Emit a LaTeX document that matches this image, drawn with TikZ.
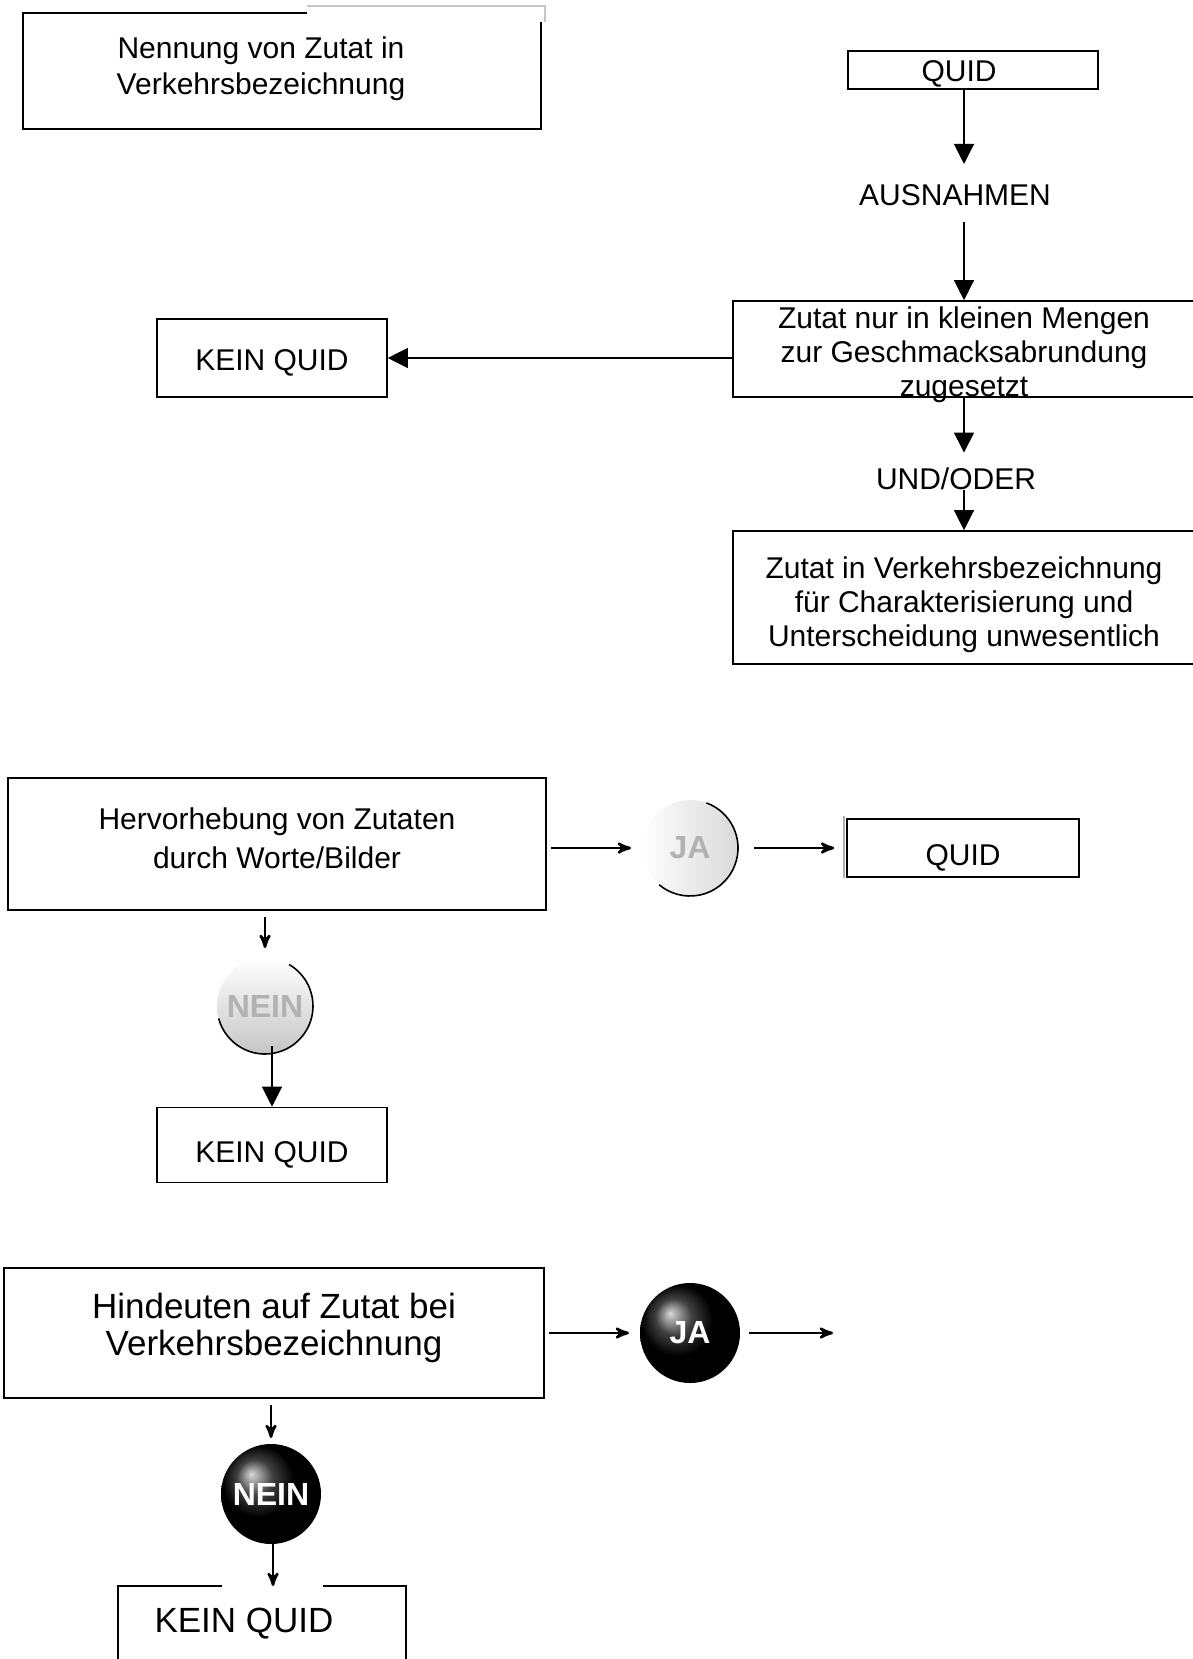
\documentclass[tikz,border=0pt]{standalone}
\usepackage{fontspec}
\setmainfont{Liberation Sans}
\usetikzlibrary{shapes,arrows,arrows.meta}

\begin{document}
\begin{tikzpicture}[
    x=0.5pt, y=-0.5pt,
    box/.style={
        rectangle,
        draw,
        line width=0.8pt,
        align=center,
        font=\fontsize{15}{17}\selectfont
    },
    plain/.style={
        align=center,
        inner sep=0pt,
        font=\fontsize{15}{17}\selectfont
    },
    paleball/.style={
        circle,
        minimum size=48pt,
        inner sep=0pt,
        outer sep=0pt,
        text=gray!60,
        font=\bfseries\fontsize{16}{16}\selectfont
    },
    darkball/.style={
        circle,
        minimum size=50pt,
        inner sep=0pt,
        outer sep=0pt,
        shading=ball,
        ball color=black,
        text=white,
        font=\bfseries\fontsize{16}{16}\selectfont
    },
    line/.style={
        draw, line width=0.6pt, -{Triangle[length=10pt,width=10pt]}
    },
    jump/.style={
        draw, line width=1.3pt, -stealth'
    }
]
    \useasboundingbox (0,0) rectangle (1193,1659);

    % Nodes: exceptions
    \node [plain, font=\fontsize{15}{18}\selectfont] (nennung) at (261,69) {Nennung von Zutat in\\Verkehrsbezeichnung};
    \node [box, minimum width=125pt, minimum height=19pt, inner sep=0pt, text height=12.5pt, text depth=0.8pt] (quidtop) at (973,70) {QUID\hspace*{14pt}};
    \node [plain] (ausnahmen) at (955,195) {AUSNAHMEN};
    \node [box, minimum width=231pt, minimum height=48pt, inner ysep=0pt, text height=47.8pt, text depth=0pt] (mengen) at (964,349) {Zutat nur in kleinen Mengen\\zur Geschmacksabrundung\\zugesetzt};
    \node [box, minimum width=115pt, minimum height=39pt, text height=13pt, text depth=0.8pt] (keinquid1) at (272,358) {KEIN QUID};
    \node [plain] (undoder) at (956,479) {UND/ODER};
    \node [box, minimum width=231pt, minimum height=66.5pt, text height=51.9pt, text depth=3pt] (verkehr) at (964,597.5) {Zutat in Verkehrsbezeichnung\\f\"ur Charakterisierung und\\Unterscheidung unwesentlich};

    % Nodes: words/pictures
    \node [box, minimum width=269pt, minimum height=66pt, font=\fontsize{15}{19.5}\selectfont, text height=27.5pt, text depth=3pt] (hervor) at (277,844) {Hervorhebung von Zutaten\\durch Worte/Bilder};
    \node [paleball, left color=white, right color=gray!30] (ja1) at (690,848) {JA};
    \node [box, minimum width=116pt, minimum height=29pt, text height=18pt, text depth=1pt] (quid2) at (963,848) {QUID};
    \node [paleball, top color=white, bottom color=gray!45] (nein1) at (265,1006) {NEIN};
    \node [box, minimum width=115pt, minimum height=37.5pt, text height=18pt, text depth=1pt] (keinquid2) at (272,1145) {KEIN QUID};

    % Nodes: hint
    \node [box, line width=1pt, minimum width=270pt, minimum height=65pt, font=\fontsize{17.5}{18.5}\selectfont, text height=26.1pt, text depth=3.5pt] (hindeuten) at (274,1333) {Hindeuten auf Zutat bei\\Verkehrsbezeichnung};
    \node [darkball] (ja2) at (690,1333) {JA};
    \coordinate (jaend) at (833,1333);
    \node [darkball] (nein2) at (271,1494) {NEIN};
    \node [plain, font=\fontsize{17.5}{18.5}\selectfont] (keinquid3) at (244,1624) {KEIN QUID};
    \coordinate (k3top) at (273,1586);

    % Broken frames and outlines
    \draw [line width=0.8pt] (307,13) -| (23,129) -| (541,22);
    \draw [gray!45, line width=0.6pt] (307,6) -- (545,6) -- (545,22);
    \draw [gray!60, line width=0.6pt] (844,816) -- (844,878);
    \draw [line width=0.8pt] (222,1586) -| (118,1700);
    \draw [line width=0.8pt] (323,1586) -| (406,1700);
    \draw [line width=0.8pt] (ja1.70) arc [start angle=70, end angle=-130, radius=24pt];
    \draw [line width=0.8pt] (nein1.60) arc [start angle=60, end angle=-165, radius=24pt];

    % Edges
    \path [line, shorten >=10pt] (quidtop.south -| mengen) -- (ausnahmen.north -| mengen);
    \path [line, shorten <=8pt] (ausnahmen.south -| mengen) -- (mengen.north);
    \path [line] (mengen.west |- keinquid1) -- (keinquid1.east);
    \path [line, shorten >=7.5pt] (mengen.south) -- (undoder.north -| mengen);
    \path [line] (undoder.south -| mengen) -- (verkehr.north);
    \path [jump, shorten <=2pt, shorten >=5.5pt] (hervor.east |- ja1) -- (ja1.west);
    \path [jump, shorten <=8pt, shorten >=6pt] (ja1.east) -- (quid2.west);
    \path [jump, shorten <=3pt, shorten >=5pt] (hervor.south -| nein1) -- (nein1.north);
    \path [line, shorten <=-4pt] (nein1.south -| keinquid2) -- (keinquid2.north);
    \path [jump, shorten <=2pt, shorten >=5.5pt] (hindeuten.east |- ja2) -- (ja2.west);
    \path [jump, shorten <=4.5pt] (ja2.east) -- (jaend);
    \path [jump, shorten <=3pt, shorten >=3pt] (hindeuten.south -| nein2) -- (nein2.north);
    \path [jump] (nein2.south -| k3top) -- (k3top);

\end{tikzpicture}
\end{document}
